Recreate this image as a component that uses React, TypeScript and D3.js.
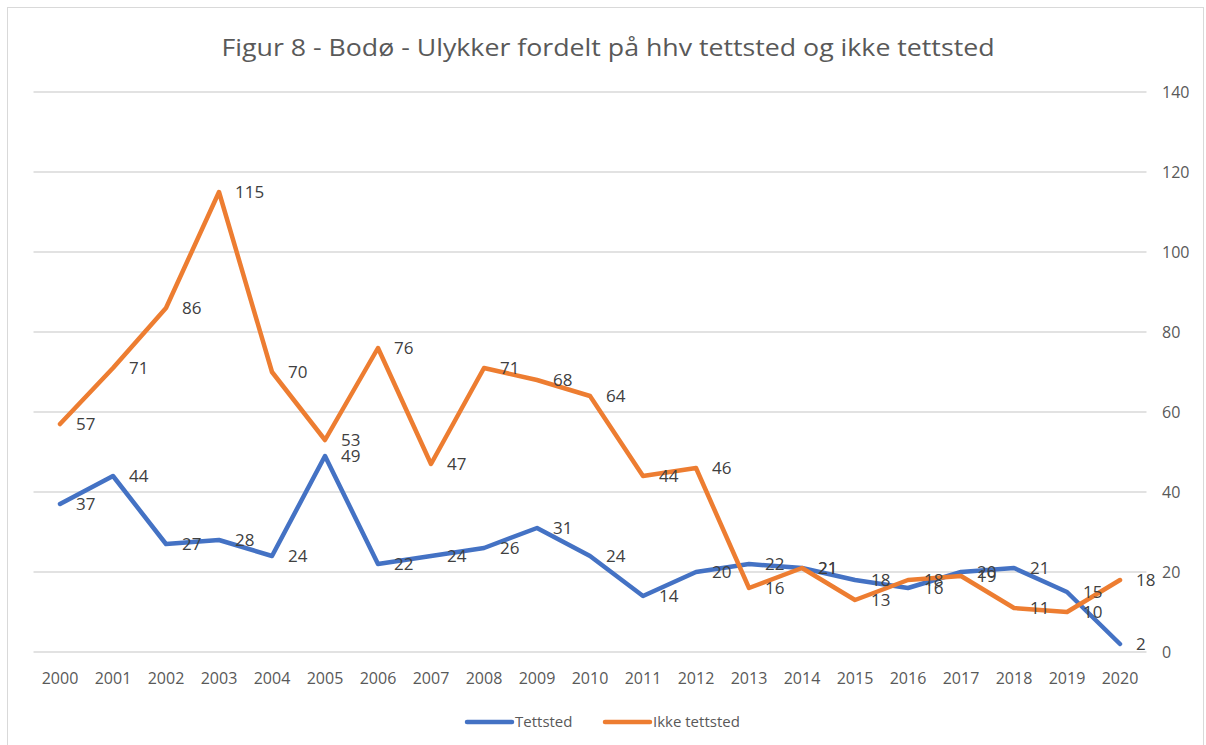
import React from "react";
import * as d3 from "d3";

const years = ["2000","2001","2002","2003","2004","2005","2006","2007","2008","2009","2010","2011","2012","2013","2014","2015","2016","2017","2018","2019","2020"];
const tettsted = [37,44,27,28,24,49,22,24,26,31,24,14,20,22,21,18,16,20,21,15,2];
const ikkeTettsted = [57,71,86,115,70,53,76,47,71,68,64,44,46,16,21,13,18,19,11,10,18];
const yTicks = [0,20,40,60,80,100,120,140];
const seriesNames = ["Tettsted", "Ikke tettsted"];
const seriesColors = ["#4472C4", "#ED7D31"];

const W = 1206, H = 745;
const font = "'Open Sans', sans-serif";

export default function App() {
  const x = d3.scaleBand<string>().domain(years).range([33.5, 1146.5]);
  const y = d3.scaleLinear().domain([0, 140]).range([652, 92]);
  const cx = (d: string) => (x(d) as number) + x.bandwidth() / 2;
  const line = d3.line<number>().x((_, i) => cx(years[i])).y((v) => y(v));
  const series = [tettsted, ikkeTettsted];

  return (
    <svg width={W} height={H} style={{ position: "absolute", left: 0, top: 0 }} fontFamily={font}>
      <rect x={0} y={0} width={W} height={H} fill="#fff" />
      <rect x={7.5} y={7.5} width={W - 10} height={H - 6} fill="none" stroke="#d9d9d9" />
      <text x={608} y={56} textAnchor="middle" fontSize={24} fill="#595959" textLength={773} lengthAdjust="spacingAndGlyphs">
        Figur 8 - Bodø - Ulykker fordelt på hhv tettsted og ikke tettsted
      </text>
      {yTicks.map((t) => (
        <g key={t}>
          <line x1={33.5} x2={1146.5} y1={y(t)} y2={y(t)} stroke="#d9d9d9" strokeWidth={1.3} />
          <text x={1162} y={y(t)} dy="0.35em" fontSize={16} fill="#595959">{t}</text>
        </g>
      ))}
      {years.map((yr) => (
        <text key={yr} x={cx(yr)} y={684} textAnchor="middle" fontSize={16} fill="#595959">{yr}</text>
      ))}
      {series.map((s, si) => (
        <path key={si} d={line(s) || ""} fill="none" stroke={seriesColors[si]} strokeWidth={4.5} strokeLinejoin="round" strokeLinecap="round" />
      ))}
      {series.map((s, si) =>
        s.map((v, i) => (
          <text key={si + "-" + i} x={cx(years[i]) + 16} y={y(v)} dy="0.35em" fontSize={17} fill="#404040">{v}</text>
        ))
      )}
      {seriesNames.map((n, i) => {
        const lx = i === 0 ? 467 : 605;
        return (
          <g key={n}>
            <line x1={lx} x2={lx + 45} y1={722} y2={722} stroke={seriesColors[i]} strokeWidth={4.5} strokeLinecap="round" />
            <text x={lx + 48} y={722} dy="0.35em" fontSize={15} fill="#595959">{n}</text>
          </g>
        );
      })}
    </svg>
  );
}
